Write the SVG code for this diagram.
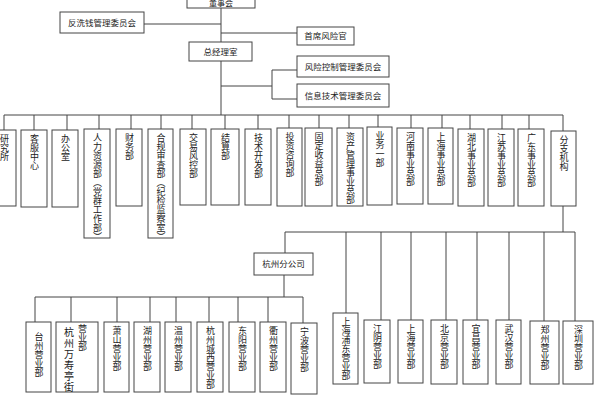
<svg xmlns="http://www.w3.org/2000/svg" width="600" height="400" viewBox="0 0 600 400">
<style>
.b{fill:#fff;stroke:#444;stroke-width:1}
.c{fill:none;stroke:#444;stroke-width:1}
text{font-family:"Liberation Sans","Noto Sans CJK SC",sans-serif;fill:#222}
.h{font-size:8.5px;text-anchor:middle;dominant-baseline:central}
.v{font-size:9px;writing-mode:vertical-rl}
.w{font-size:10px;writing-mode:vertical-rl;letter-spacing:1px}
</style>
<rect width="600" height="400" fill="#fff"/>
<g id="connectors" class="c">
<path d="M221,8V42M144,24H221M221,33H297M221,61V115M221,86H272M297,70H272V99H297"/>
<path d="M4,115H563M4,115V130M34,115V130M67,115V130M99,115V129M131,115V129M161,115V129M192,115V129M225,115V129M258,115V129M289,115V128M319,115V128M349,115V128M378,115V127M411,115V128M442,115V128M470,115V129M502,115V129M529,115V129M563,115V131"/>
<path d="M563,206V232M285,232H575M285,232V253M346,232V313M381,232V320M411,232V320M446,232V320M477,232V320M509,232V320M544,232V321M575,232V321"/>
<path d="M284,275V297M35,297H303M35,297V322M71,297V322M117,297V322M150,297V322M176,297V322M209,297V322M238,297V322M268,297V322M303,297V323"/>
</g>
<g id="n-dongshihui"><rect class="b" x="187" y="-12" width="68" height="20"/><text class="h" x="221" y="3.8" style="font-size:8px">董事会</text></g>
<g id="n-fanxiqian"><rect class="b" x="60" y="12" width="84" height="21"/><text class="h" x="102" y="22.5">反洗钱管理委员会</text></g>
<g id="n-shouxi"><rect class="b" x="297" y="27" width="57" height="18"/><text class="h" x="325.5" y="36">首席风险官</text></g>
<g id="n-zongjingli"><rect class="b" x="189" y="42" width="63" height="19"/><text class="h" x="220.5" y="51.5">总经理室</text></g>
<g id="n-fengkong"><rect class="b" x="297" y="56" width="92" height="21"/><text class="h" x="343" y="66.5">风险控制管理委员会</text></g>
<g id="n-xinxi"><rect class="b" x="297" y="84" width="92" height="23"/><text class="h" x="343" y="95.5">信息技术管理委员会</text></g>

<g id="d1"><rect class="b" x="-8" y="130" width="24" height="76"/><text class="v" x="4" y="134">研究所</text></g>
<g id="d2"><rect class="b" x="21" y="130" width="26" height="77"/><text class="v" x="34" y="134">客服中心</text></g>
<g id="d3"><rect class="b" x="52" y="130" width="26" height="77"/><text class="v" x="65" y="134">办公室</text></g>
<g id="d4"><rect class="b" x="84" y="129" width="26" height="109"/><text class="v" x="97" y="133">人力资源部（党群工作部）</text></g>
<g id="d5"><rect class="b" x="116" y="129" width="26" height="77"/><text class="v" x="129" y="133">财务部</text></g>
<g id="d6"><rect class="b" x="148" y="129" width="25" height="109"/><text class="v" x="160.5" y="133">合规审查部（纪检监察室）</text></g>
<g id="d7"><rect class="b" x="180" y="129" width="26" height="76"/><text class="v" x="193" y="133">交易风控部</text></g>
<g id="d8"><rect class="b" x="211" y="129" width="28" height="76"/><text class="v" x="225" y="133">结算部</text></g>
<g id="d9"><rect class="b" x="245" y="129" width="26" height="76"/><text class="v" x="258" y="133">技术开发部</text></g>
<g id="d10"><rect class="b" x="277" y="128" width="25" height="78"/><text class="v" x="289.5" y="132">投资咨询部</text></g>
<g id="d11"><rect class="b" x="305" y="128" width="27" height="78"/><text class="v" x="318.5" y="132">固定收益总部</text></g>
<g id="d12"><rect class="b" x="337" y="128" width="26" height="78"/><text class="v" x="350" y="132">资产管理事业总部</text></g>
<g id="d13"><rect class="b" x="367" y="127" width="25" height="78"/><text class="v" x="379.5" y="131">业务一部</text></g>
<g id="d14"><rect class="b" x="397" y="128" width="26" height="76"/><text class="v" x="410" y="132">河南事业总部</text></g>
<g id="d15"><rect class="b" x="428" y="128" width="25" height="76"/><text class="v" x="440.5" y="132">上海事业总部</text></g>
<g id="d16"><rect class="b" x="458" y="129" width="26" height="77"/><text class="v" x="471" y="133">湖北事业总部</text></g>
<g id="d17"><rect class="b" x="488" y="129" width="26" height="77"/><text class="v" x="501" y="133">江苏事业总部</text></g>
<g id="d18"><rect class="b" x="518" y="129" width="26" height="77"/><text class="v" x="531" y="133">广东事业总部</text></g>
<g id="d19"><rect class="b" x="551" y="131" width="25" height="75"/><text class="v" x="563.5" y="135">分支机构</text></g>

<g id="n-hangzhou"><rect class="b" x="254" y="253" width="59" height="22"/><text class="h" x="283.5" y="264">杭州分公司</text></g>

<g id="r1"><rect class="b" x="333" y="313" width="25" height="71"/><text class="v" x="345.5" y="317">上海浦东营业部</text></g>
<g id="r2"><rect class="b" x="364" y="320" width="26" height="63"/><text class="v" x="377" y="324">江阴营业部</text></g>
<g id="r3"><rect class="b" x="398" y="320" width="25" height="63"/><text class="v" x="410.5" y="324">上海营业部</text></g>
<g id="r4"><rect class="b" x="431" y="320" width="26" height="64"/><text class="v" x="444" y="324">北京营业部</text></g>
<g id="r5"><rect class="b" x="463" y="320" width="25" height="64"/><text class="v" x="475.5" y="324">宜昌营业部</text></g>
<g id="r6"><rect class="b" x="496" y="320" width="25" height="64"/><text class="v" x="508.5" y="324">武汉营业部</text></g>
<g id="r7"><rect class="b" x="530" y="321" width="29" height="63"/><text class="v" x="544.5" y="325">郑州营业部</text></g>
<g id="r8"><rect class="b" x="563" y="321" width="30" height="63"/><text class="v" x="578" y="325">深圳营业部</text></g>

<g id="z1"><rect class="b" x="26" y="322" width="25" height="70"/><text class="v" x="38.5" y="332">台州营业部</text></g>
<g id="z2"><rect class="b" x="56" y="322" width="42" height="70"/><text class="w" x="68" y="327">杭州万寿亭街</text><text class="v" x="82" y="324">营业部</text></g>
<g id="z3"><rect class="b" x="104" y="322" width="25" height="70"/><text class="v" x="116.5" y="326">萧山营业部</text></g>
<g id="z4"><rect class="b" x="134" y="322" width="26" height="70"/><text class="v" x="147" y="326">湖州营业部</text></g>
<g id="z5"><rect class="b" x="165" y="322" width="26" height="70"/><text class="v" x="178" y="326">温州营业部</text></g>
<g id="z6"><rect class="b" x="197" y="322" width="26" height="70"/><text class="v" x="210" y="326">杭州城西营业部</text></g>
<g id="z7"><rect class="b" x="229" y="322" width="26" height="70"/><text class="v" x="242" y="326">东阳营业部</text></g>
<g id="z8"><rect class="b" x="260" y="322" width="26" height="70"/><text class="v" x="273" y="326">衢州营业部</text></g>
<g id="z9"><rect class="b" x="291" y="323" width="26" height="71"/><text class="v" x="304" y="327">宁波营业部</text></g>
</svg>
